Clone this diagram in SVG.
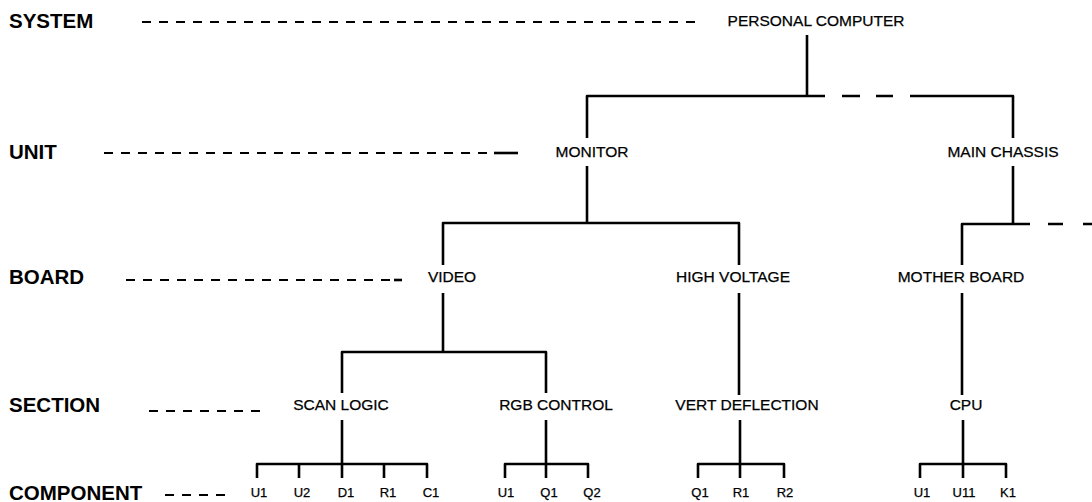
<svg xmlns="http://www.w3.org/2000/svg" width="1092" height="502" viewBox="0 0 1092 502">
<style>
.lvl{font-family:"Liberation Sans",Arial,sans-serif;font-weight:bold;font-size:20.5px;fill:#000}
.node{font-family:"Liberation Sans",Arial,sans-serif;font-size:15.5px;fill:#000;text-anchor:middle;stroke:#000;stroke-width:0.25}
.comp{font-family:"Liberation Sans",Arial,sans-serif;font-size:13px;fill:#000;text-anchor:middle;stroke:#000;stroke-width:0.25}
.ln{fill:none;stroke:#000;stroke-width:2.6;stroke-linejoin:round;stroke-linecap:butt}
.dash{fill:none;stroke:#000;stroke-width:2.2;stroke-dasharray:9 8}
</style>
<rect width="1092" height="502" fill="#fff"/>
<g id="levels">
<text class="lvl" x="9" y="28">SYSTEM</text>
<text class="lvl" x="9" y="159">UNIT</text>
<text class="lvl" x="9" y="284">BOARD</text>
<text class="lvl" x="9" y="412">SECTION</text>
<text class="lvl" x="9" y="500">COMPONENT</text>
</g>
<g id="connectors">
<path class="dash" d="M142 22H700"/>
<path class="dash" d="M104 153H490"/>
<path class="ln" d="M494 153H518"/>
<path class="dash" d="M126 280H392"/>
<path class="ln" d="M394 280H402"/>
<path class="dash" d="M149 411H267"/>
<path class="dash" d="M165 495H225"/>
<path class="ln" d="M807 35V96"/>
<path class="ln" d="M587 138V96H825"/>
<path class="ln" d="M842 96H860M876 96H893"/>
<path class="ln" d="M910 96H1013V138"/>
<path class="ln" d="M587 166V223"/>
<path class="ln" d="M443 265V223H739V265"/>
<path class="ln" d="M1013 166V224"/>
<path class="ln" d="M962 265V224H1030"/>
<path class="ln" d="M1048 224H1063M1083 224H1092"/>
<path class="ln" d="M443 293V352"/>
<path class="ln" d="M342 393V352H546V393"/>
<path class="ln" d="M739 293V395"/>
<path class="ln" d="M962 293V395"/>
<path class="ln" d="M342 420V464"/>
<path class="ln" d="M257 478V464H427V478M299 464V478M342 464V478M384 464V478"/>
<path class="ln" d="M546 420V464"/>
<path class="ln" d="M505 478V464H588V478M546 464V478"/>
<path class="ln" d="M740 420V464"/>
<path class="ln" d="M698 478V464H784V478M740 464V478"/>
<path class="ln" d="M963 420V464"/>
<path class="ln" d="M920 478V464H1006V478M963 464V478"/>
</g>
<g id="n-pc"><text class="node" x="816" y="26">PERSONAL COMPUTER</text></g>
<g id="n-monitor"><text class="node" x="592" y="157">MONITOR</text></g>
<g id="n-chassis"><text class="node" x="1003" y="157">MAIN CHASSIS</text></g>
<g id="n-video"><text class="node" x="452" y="282">VIDEO</text></g>
<g id="n-hv"><text class="node" x="733" y="282">HIGH VOLTAGE</text></g>
<g id="n-mb"><text class="node" x="961" y="282">MOTHER BOARD</text></g>
<g id="n-scan"><text class="node" x="341" y="410">SCAN LOGIC</text></g>
<g id="n-rgb"><text class="node" x="556" y="410">RGB CONTROL</text></g>
<g id="n-vert"><text class="node" x="747" y="410">VERT DEFLECTION</text></g>
<g id="n-cpu"><text class="node" x="966" y="410">CPU</text></g>
<g id="components">
<text class="comp" x="259" y="497">U1</text>
<text class="comp" x="302" y="497">U2</text>
<text class="comp" x="346" y="497">D1</text>
<text class="comp" x="388" y="497">R1</text>
<text class="comp" x="431" y="497">C1</text>
<text class="comp" x="506" y="497">U1</text>
<text class="comp" x="549" y="497">Q1</text>
<text class="comp" x="592" y="497">Q2</text>
<text class="comp" x="700" y="497">Q1</text>
<text class="comp" x="741" y="497">R1</text>
<text class="comp" x="785" y="497">R2</text>
<text class="comp" x="922" y="497">U1</text>
<text class="comp" x="964" y="497">U11</text>
<text class="comp" x="1008" y="497">K1</text>
</g>
</svg>
